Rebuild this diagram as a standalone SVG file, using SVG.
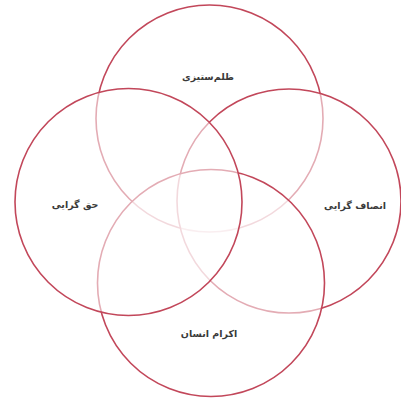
<svg xmlns="http://www.w3.org/2000/svg" width="401" height="398" viewBox="0 0 401 398">
<style>
.c{fill:#ffffff;fill-opacity:0.55;stroke:#c2475a;stroke-width:1.6}
.t{font-family:"DejaVu Sans",sans-serif;font-size:9.5px;font-weight:bold;fill:#3a3a3a;text-anchor:middle;direction:rtl}
</style>
<rect width="401" height="398" fill="#ffffff"/>
<g id="top"><circle class="c" cx="209.5" cy="118.5" r="113.5"/></g>
<g id="right"><circle class="c" cx="289" cy="201" r="112"/></g>
<g id="bottom"><circle class="c" cx="211" cy="283" r="113.5"/></g>
<g id="left"><circle class="c" cx="128.5" cy="202" r="113.5"/></g>
<g id="labels">
<text class="t" x="208" y="80">ظلم‌ستیزی</text>
<text class="t" x="75" y="208">حق گرایی</text>
<text class="t" x="355" y="209">انصاف گرایی</text>
<text class="t" x="209" y="337">اکرام انسان</text>
</g>
</svg>
